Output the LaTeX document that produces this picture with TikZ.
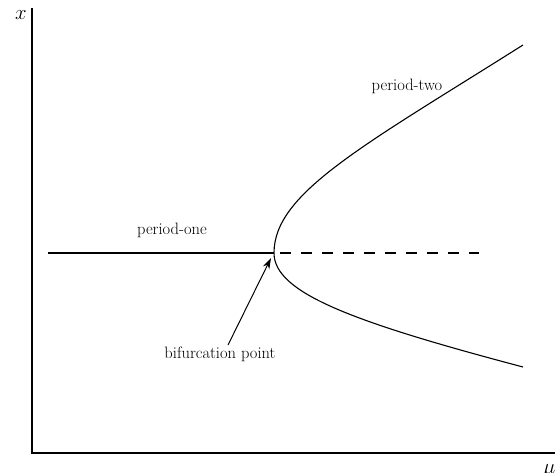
\documentclass[tikz,border=0pt]{standalone}
\usetikzlibrary{arrows.meta}
\begin{document}
\begin{tikzpicture}[x=1pt,y=-1pt,
  curve/.style={line width=1.1pt},
  axis/.style={line width=1.1pt},
  lbl/.style={font=\fontsize{16.5}{20}\selectfont, inner sep=0pt},
  axlbl/.style={font=\fontsize{21}{25}\selectfont, inner sep=0pt}]
\useasboundingbox (0,0) rectangle (555,473);
% axes
\coordinate (O) at (32,453);
\coordinate (Ytop) at (32,8);
\coordinate (Xend) at (555,453);
\draw[axis] (Ytop) -- (O) -- (Xend);
\node[axlbl, anchor=base] (xl) at (21,20) {$x$};
\node[axlbl, anchor=base west] (mul) at (543,473) {$\mu$};
% branches
\coordinate (L) at (48,253);
\coordinate (V) at (274,253);
\coordinate (D1) at (280,253);
\coordinate (D2) at (479,253);
\coordinate (U) at (523,45);
\coordinate (B) at (523,367);
\draw[curve] (L) -- (V);
\draw[curve, dash pattern=on 10.5pt off 10.5pt] (D1) -- (D2);
\draw[curve] (U) .. controls (363,146) and (274,193) .. (V)
  .. controls (274,293) and (353,322) .. (B);
% labels
\node[lbl] (p1) at (172,230) {period-one};
\node[lbl] (p2) at (407,86) {period-two};
\node[lbl, anchor=base] (bp) at (220,359) {bifurcation point};
\coordinate (tip) at (271,258);
\coordinate (tail) at (228,345);
\draw[line width=1pt, -{Stealth[length=11pt,width=7pt]}] (tail) -- (tip);
\end{tikzpicture}
\end{document}
